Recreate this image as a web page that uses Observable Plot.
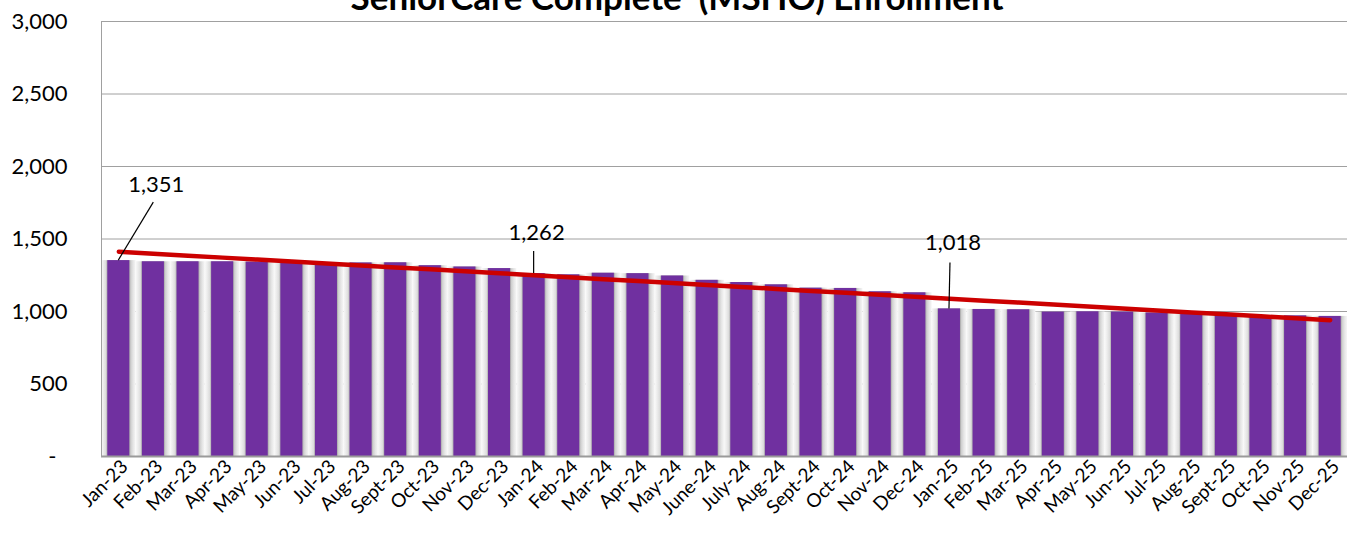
<!DOCTYPE html>
<html>
<head>
<meta charset="utf-8">
<script src="https://cdn.jsdelivr.net/npm/d3@7"></script>
<script src="https://cdn.jsdelivr.net/npm/@observablehq/plot@0.6"></script>
<style>
  html, body { margin: 0; padding: 0; background: #fff; }
  body { width: 1360px; height: 536px; overflow: hidden; position: relative; font-family: Lato, "Open Sans", sans-serif; }
  #title { position: absolute; left: 0; top: -24px; width: 1354px; text-align: center; font: bold 35px Lato, sans-serif; line-height: 40px; white-space: pre; color: #000; z-index: 2; }
  #chart { position: absolute; left: 0; top: 0; }
</style>
</head>
<body>
<div id="title">SeniorCare Complete  (MSHO) Enrollment</div>
<div id="chart"></div>
<script>
// ---- data ----
const months = [
  "Jan-23","Feb-23","Mar-23","Apr-23","May-23","Jun-23","Jul-23","Aug-23","Sept-23","Oct-23","Nov-23","Dec-23",
  "Jan-24","Feb-24","Mar-24","Apr-24","May-24","June-24","July-24","Aug-24","Sept-24","Oct-24","Nov-24","Dec-24",
  "Jan-25","Feb-25","Mar-25","Apr-25","May-25","Jun-25","Jul-25","Aug-25","Sept-25","Oct-25","Nov-25","Dec-25"
];
const enrollment = [
  1351, 1343, 1343, 1343, 1341, 1335, 1334, 1335, 1336, 1316, 1307, 1296,
  1262, 1253, 1264, 1261, 1245, 1215, 1200, 1184, 1161, 1159, 1136, 1129,
  1018, 1014, 1012, 996, 998, 996, 990, 980, 976, 969, 970, 966
];
const labeledMonths = ["Jan-23", "Jan-24", "Jan-25"];
const yTicks = [0, 500, 1000, 1500, 2000, 2500, 3000];

// ---- derived tables ----
const data = months.map((m, i) => ({month: m, value: enrollment[i], i}));
// linear trend (least squares)
const mx = d3.mean(data, d => d.i), my = d3.mean(data, d => d.value);
const slope = d3.sum(data, d => (d.i - mx) * (d.value - my)) / d3.sum(data, d => (d.i - mx) ** 2);
const intercept = my - slope * mx;
const trend = data.map(d => ({month: d.month, value: intercept + slope * d.i}));
const labels = data.filter(d => labeledMonths.includes(d.month));

const fmt = d3.format(",");

const defs = () => {
  const ns = "http://www.w3.org/2000/svg";
  const g = document.createElementNS(ns, "defs");
  g.innerHTML = `
    <linearGradient id="barShadow" x1="0" x2="1" y1="0" y2="0">
      <stop offset="0" stop-color="#f9f9f9"/>
      <stop offset="0.07" stop-color="#ececec"/>
      <stop offset="0.14" stop-color="#dcdcdc"/>
      <stop offset="0.175" stop-color="#b4b4b4"/>
      <stop offset="0.83" stop-color="#b0b0b0"/>
      <stop offset="0.86" stop-color="#cfcfcf"/>
      <stop offset="0.93" stop-color="#e6e6e6"/>
      <stop offset="1" stop-color="#f6f6f6"/>
    </linearGradient>`;
  return g;
};

const plot = Plot.plot({
  width: 1360,
  height: 536,
  marginTop: 21,
  marginBottom: 80,
  marginLeft: 101,
  marginRight: 13,
  style: {fontFamily: "Lato, sans-serif", background: "transparent", overflow: "visible"},
  x: {type: "band", domain: months, padding: 0, round: false, label: null},
  y: {domain: [0, 3000], label: null},
  marks: [
    defs,
    Plot.gridY(yTicks, {stroke: "#a0a0a0", strokeOpacity: 1, strokeWidth: 1}),
    Plot.barY(data, {x: "month", y: "value", fill: "url(#barShadow)"}),
    Plot.barY(data, {x: "month", y: "value", fill: "#7030A0", insetLeft: 6.3, insetRight: 6.3}),
    Plot.ruleY([0], {stroke: "#9a9a9a", strokeWidth: 2}),
    Plot.frame({anchor: "left", stroke: "#a0a0a0"}),
    Plot.line(trend, {x: "month", y: "value", stroke: "#CC0000", strokeWidth: 4.5, strokeLinecap: "round"}),
    Plot.axisY({ticks: yTicks, tickSize: 0, tickPadding: 34, fontSize: 22, fill: "#000",
      tickFormat: d => d === 0 ? "-\u2002" : fmt(d)}),
    Plot.axisX({tickRotate: -45, tickSize: 0, tickPadding: 5, dx: 6, dy: 2, fontSize: 19, fill: "#000"})
  ]
});
document.getElementById("chart").appendChild(plot);

// ---- data labels with leader lines, positioned through the plot's scales ----
const sx = plot.scale("x"), sy = plot.scale("y");
const bw = sx.bandwidth;
const svg = d3.select(plot);
const layout = {
  "Jan-23": {lx: 35, ly: -58, tx: 38, ty: -68},
  "Jan-24": {lx: 0, ly: -22, tx: 3, ty: -33},
  "Jan-25": {lx: 1, ly: -46, tx: 4, ty: -58}
};
const g = svg.append("g");
labels.forEach(d => {
  const cx = sx.apply(d.month) + bw / 2;
  const cy = sy.apply(d.value);
  const L = layout[d.month];
  g.append("line").attr("x1", cx).attr("y1", cy).attr("x2", cx + L.lx).attr("y2", cy + L.ly)
    .attr("stroke", "#000").attr("stroke-width", 1.2);
  g.append("text").attr("x", cx + L.tx).attr("y", cy + L.ty).attr("text-anchor", "middle")
    .attr("font-size", 22).attr("font-family", "Lato, sans-serif").attr("fill", "#000")
    .text(fmt(d.value));
});
</script>
</body>
</html>
